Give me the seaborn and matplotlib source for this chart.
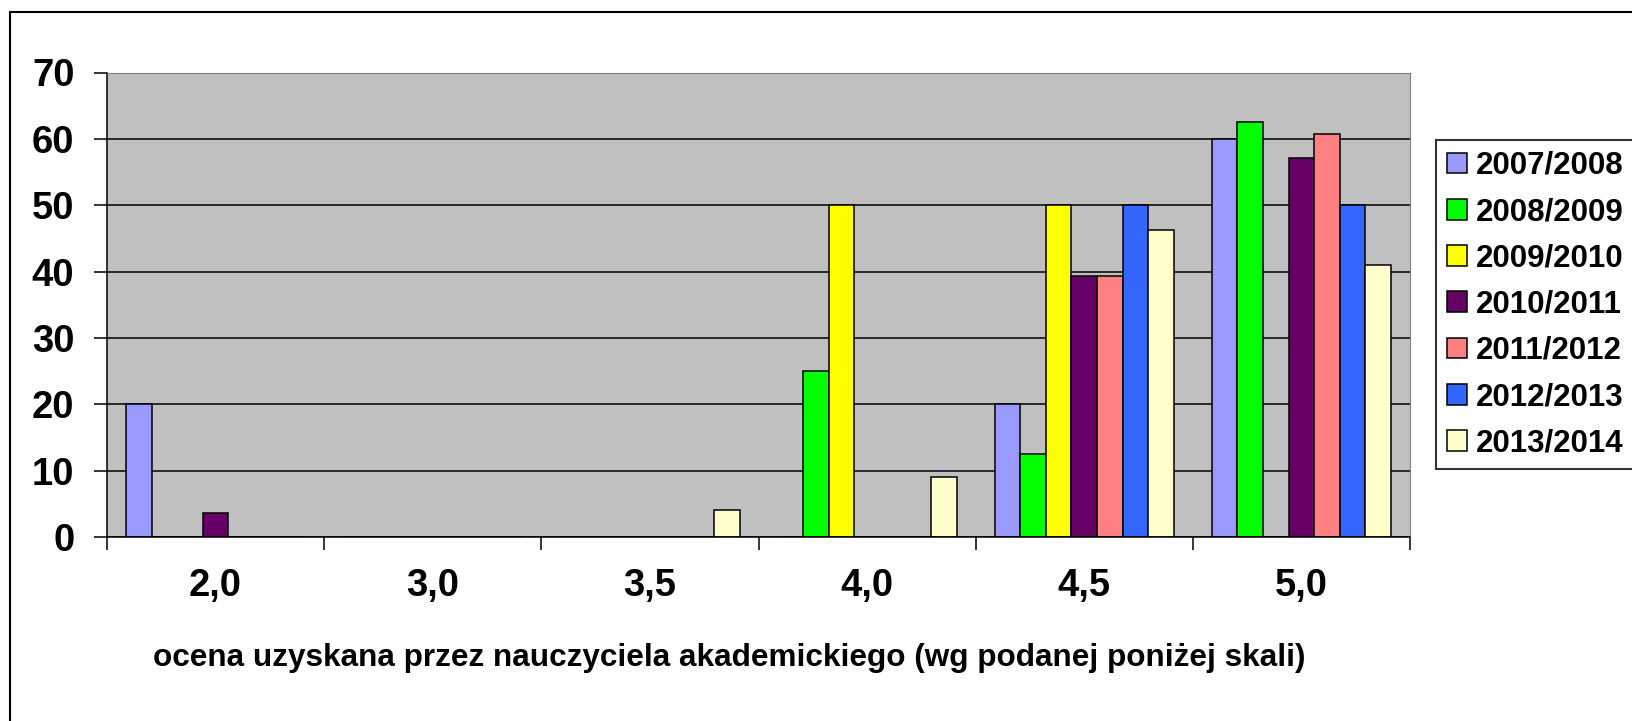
import pandas as pd
import seaborn as sns
import matplotlib.pyplot as plt
from matplotlib.patches import Rectangle
from matplotlib.ticker import FixedLocator

# Oceny (kategorie na osi X) i lata akademickie (serie)
oceny = ['2,0', '3,0', '3,5', '4,0', '4,5', '5,0']
lata = ['2007/2008', '2008/2009', '2009/2010', '2010/2011',
        '2011/2012', '2012/2013', '2013/2014']

# Wartosci, po jednej liscie na rok (kolejnosc jak oceny)
r2007 = [20, 0, 0, 0, 20, 60]
r2008 = [0, 0, 0, 25, 12.5, 62.5]
r2009 = [0, 0, 0, 50, 50, 0]
r2010 = [3.6, 0, 0, 0, 39.3, 57.1]
r2011 = [0, 0, 0, 0, 39.3, 60.7]
r2012 = [0, 0, 0, 0, 50, 50]
r2013 = [0, 0, 4.1, 9.0, 46.3, 41.0]

kolory = ['#9999FF', '#00FF00', '#FFFF00', '#660066',
          '#FF8080', '#3366FF', '#FFFFCC']

serie = [r2007, r2008, r2009, r2010, r2011, r2012, r2013]
rows = []
for rok, wartosci in zip(lata, serie):
    for ocena, v in zip(oceny, wartosci):
        rows.append({'ocena': ocena, 'rok': rok, 'procent': v})
df = pd.DataFrame(rows)

sns.set_style('white')
plt.rcParams['font.family'] = ['Liberation Sans', 'DejaVu Sans']
plt.rcParams['font.weight'] = 'bold'
plt.rcParams['text.color'] = 'black'
plt.rcParams['xtick.color'] = 'black'
plt.rcParams['ytick.color'] = 'black'
plt.rcParams['xtick.labelcolor'] = 'black'
plt.rcParams['ytick.labelcolor'] = 'black'

fig = plt.figure(figsize=(16.32, 7.21), dpi=100)
ax = fig.add_axes([107 / 1632, 1 - 537 / 721, (1410 - 107) / 1632, (537 - 72.5) / 721])
ax.set_facecolor('#C0C0C0')

sns.barplot(data=df, x='ocena', y='procent', hue='rok', order=oceny,
            hue_order=lata, palette=kolory, saturation=1, width=0.826, gap=0,
            edgecolor='black', linewidth=1.1, ax=ax)

ax.set_ylim(0, 70)
ax.set_xlim(-0.5, 5.5)
ax.set_yticks(range(0, 71, 10))
ax.yaxis.grid(True, color='black', linewidth=1.1)
ax.xaxis.grid(False)
ax.set_axisbelow(True)
ax.set_xlabel('')
ax.set_ylabel('')

ax.tick_params(axis='y', direction='out', length=9.4, width=1.1, pad=14,
               labelsize=27.5, left=True, color='black', labelcolor='black')
ax.tick_params(axis='x', which='major', length=0, pad=22, labelsize=27.5,
               labelcolor='black')
ax.xaxis.set_minor_locator(FixedLocator([i - 0.5 for i in range(7)]))
ax.tick_params(axis='x', which='minor', direction='out', length=9.4,
               width=1.1, bottom=True, color='black')
for lab in ax.get_xticklabels() + ax.get_yticklabels():
    lab.set_fontweight('bold')

ax.spines['left'].set_color('black')
ax.spines['bottom'].set_color('black')
ax.spines['left'].set_linewidth(1.1)
ax.spines['bottom'].set_linewidth(1.1)
ax.spines['top'].set_color('#808080')
ax.spines['right'].set_color('#808080')

handles, labels = ax.get_legend_handles_labels()
ax.legend_.remove()
leg = fig.legend(handles, labels, loc='upper left',
                 bbox_to_anchor=(1435.7 / 1632, 1 - 140 / 721),
                 bbox_transform=fig.transFigure, borderaxespad=0,
                 prop={'weight': 'bold', 'size': 22.5},
                 frameon=True, fancybox=False, shadow=False,
                 handlelength=0.64, handleheight=0.64, handletextpad=0.3,
                 borderpad=0.35, labelspacing=0.52)
leg.get_frame().set_edgecolor('black')
leg.get_frame().set_linewidth(1.5)
leg.get_frame().set_facecolor('white')
for t in leg.get_texts():
    t.set_color('black')

fig.text(729 / 1632, 1 - 658 / 721,
         'ocena uzyskana przez nauczyciela akademickiego (wg podanej poniżej skali)',
         ha='center', va='center', fontsize=22.7, fontweight='bold', color='black')

# ramka calego wykresu (prawa i dolna krawedz poza obrazem)
fig.add_artist(Rectangle((10 / 1632, -0.2), 2, 1 - 12 / 721 + 0.2,
                         transform=fig.transFigure, fill=False,
                         edgecolor='black', linewidth=1.5, clip_on=False))

fig.savefig('out.png', dpi=100)
